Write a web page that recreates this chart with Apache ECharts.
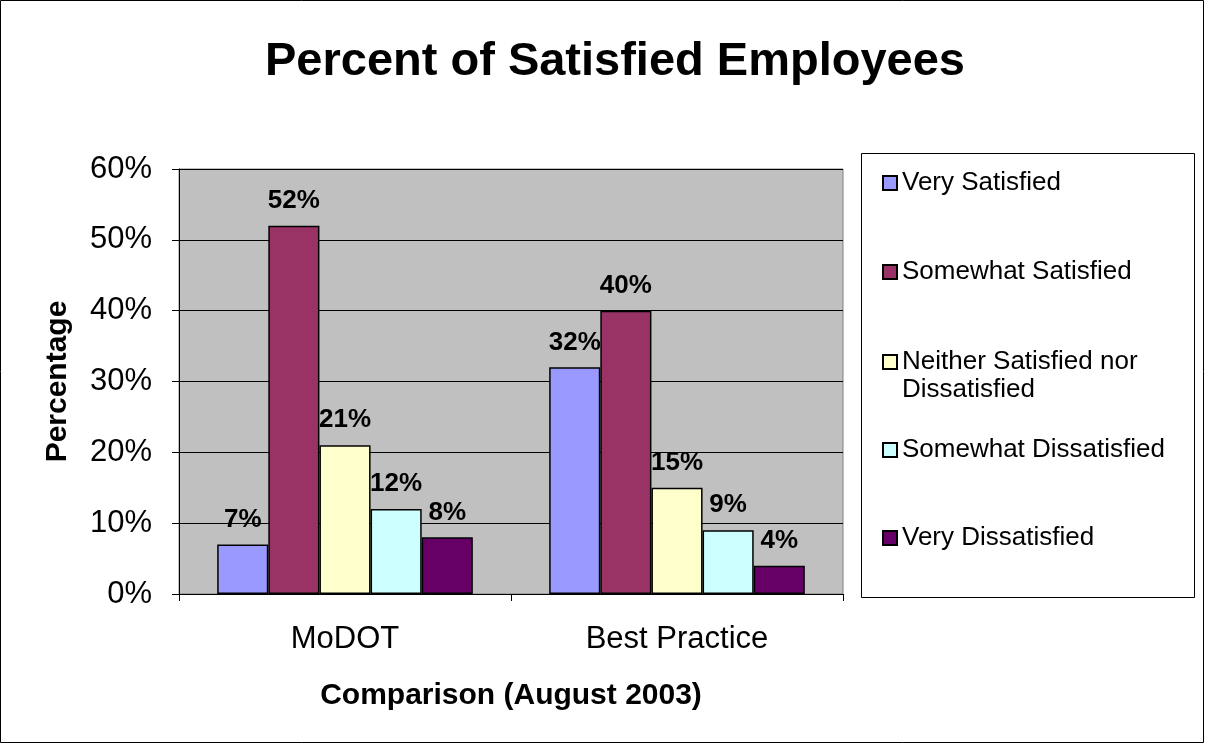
<!DOCTYPE html>
<html>
<head>
<meta charset="utf-8">
<script src="https://cdn.jsdelivr.net/npm/echarts@6/dist/echarts.min.js"></script>
<style>
html,body{margin:0;padding:0;background:#fff;}
#chart{width:1205px;height:744px;}
</style>
</head>
<body>
<div id="chart"></div>
<script>
const categories = ["MoDOT", "Best Practice"];
const seriesNames = ["Very Satisfied", "Somewhat Satisfied", "Neither Satisfied nor Dissatisfied", "Somewhat Dissatisfied", "Very Dissatisfied"];
const verySatisfied = [7, 32];
const somewhatSatisfied = [52, 40];
const neither = [21, 15];
const somewhatDissatisfied = [12, 9];
const veryDissatisfied = [8, 4];
const seriesValues = [verySatisfied, somewhatSatisfied, neither, somewhatDissatisfied, veryDissatisfied];
const colors = ["#9999FF", "#993366", "#FFFFCC", "#CCFFFF", "#660066"];
const legendTops = [169, 258, 320, 436, 524];

const FONT = "Liberation Sans, Arial, sans-serif";
const chart = echarts.init(document.getElementById('chart'));

const legends = seriesNames.map((name, i) => ({
  orient: 'vertical',
  left: 882,
  top: legendTops[i],
  padding: 0,
  itemWidth: 14,
  itemHeight: 14,
  icon: 'rect',
  data: [name],
  formatter: n => n === "Neither Satisfied nor Dissatisfied" ? "\nNeither Satisfied nor\nDissatisfied" : n,
  textStyle: { fontFamily: FONT, fontSize: 26, color: '#000', lineHeight: 28 },
  selectedMode: false
}));

const option = {
  backgroundColor: '#fff',
  animation: false,
  title: {
    text: 'Percent of Satisfied Employees',
    left: 610,
    textAlign: 'center',
    top: 34,
    textStyle: { fontFamily: FONT, fontSize: 47, fontWeight: 'bold', color: '#000' }
  },
  legend: legends,
  grid: {
    left: 179, top: 169, width: 664, height: 425,
    show: true, backgroundColor: '#C0C0C0', borderColor: '#808080', borderWidth: 1
  },
  xAxis: {
    type: 'category',
    data: categories,
    axisLine: { lineStyle: { color: '#000', width: 1 } },
    axisTick: { show: true, length: 7, lineStyle: { color: '#000' } },
    axisLabel: { fontFamily: FONT, fontSize: 31, color: '#000', margin: 30 },
    name: 'Comparison (August 2003)',
    nameLocation: 'middle',
    nameGap: 87,
    nameTextStyle: { fontFamily: FONT, fontSize: 30, fontWeight: 'bold', color: '#000' }
  },
  yAxis: {
    type: 'value',
    min: 0, max: 60, interval: 10,
    axisLine: { show: true, lineStyle: { color: '#000', width: 1 } },
    axisTick: { show: true, length: 7, lineStyle: { color: '#000' } },
    axisLabel: { fontFamily: FONT, fontSize: 31, color: '#000', margin: 27, formatter: v => v + '%' },
    splitLine: { show: true, lineStyle: { color: '#000', width: 1 } },
    name: 'Percentage',
    nameLocation: 'middle',
    nameGap: 106,
    nameTextStyle: { fontFamily: FONT, fontSize: 30, fontWeight: 'bold', color: '#000' }
  },
  series: seriesNames.map((name, i) => ({
    name: name,
    type: 'bar',
    data: seriesValues[i],
    barGap: '0%',
    barCategoryGap: '23%',
    itemStyle: { color: colors[i], borderColor: '#000', borderWidth: 1.5 },
    label: {
      show: true, position: 'top', distance: 12,
      formatter: p => p.value + '%',
      fontFamily: FONT, fontSize: 26, fontWeight: 'bold', color: '#000'
    }
  })),
  graphic: [
    { type: 'rect', z: -10, silent: true, shape: { x: 0.5, y: 0.5, width: 1203, height: 742 }, style: { fill: 'none', stroke: '#000', lineWidth: 1 } },
    { type: 'rect', z: -10, silent: true, shape: { x: 861.5, y: 153.5, width: 333, height: 444 }, style: { fill: '#fff', stroke: '#000', lineWidth: 1 } }
  ]
};
chart.setOption(option);
</script>
</body>
</html>
